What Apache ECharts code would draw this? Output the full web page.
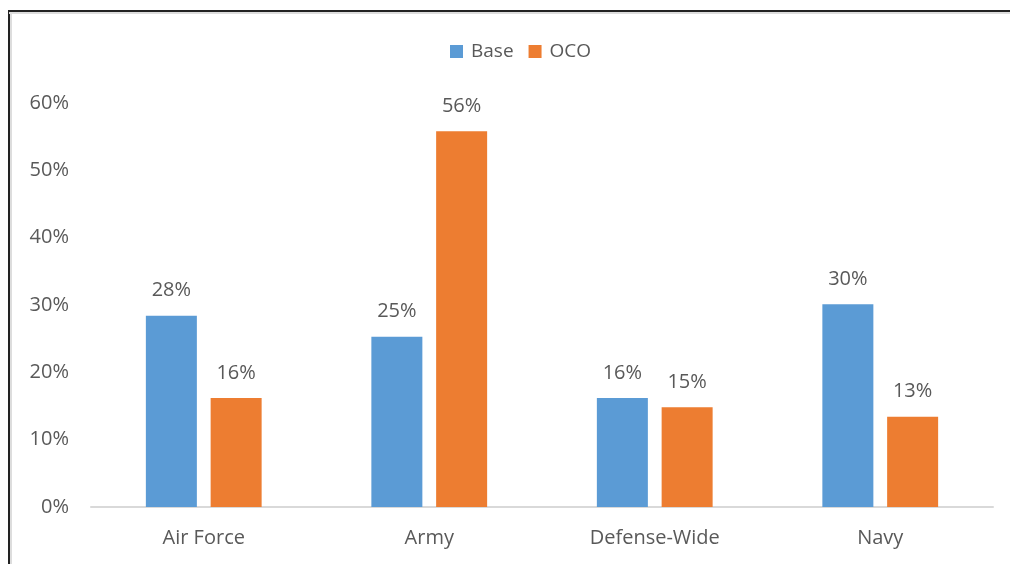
<!DOCTYPE html>
<html><head><meta charset="utf-8">
<script src="https://cdn.jsdelivr.net/npm/echarts@6/dist/echarts.min.js"></script>
<style>html,body{margin:0;padding:0;background:#fff}#c{width:1010px;height:564px}</style>
</head><body><div id="c"></div>
<script>
const categories = ['Air Force', 'Army', 'Defense-Wide', 'Navy'];
const baseValues = [0.284, 0.253, 0.162, 0.301];
const ocoValues = [0.162, 0.558, 0.148, 0.134];
const yTicks = [0, 0.1, 0.2, 0.3, 0.4, 0.5, 0.6];
const FONT = 'Open Sans';
const FS = 20;
const chart = echarts.init(document.getElementById('c'));
const lbl = {show: true, position: 'top', distance: 15, color: '#595959', fontFamily: FONT, fontSize: FS,
  formatter: p => Math.round(p.value * 100) + '%'};
chart.setOption({
  animation: false,
  textStyle: {fontFamily: FONT},
  legend: {top: 37, left: 445, itemWidth: 13, itemHeight: 13, itemGap: 15,
    textStyle: {color: '#595959', fontSize: 19, fontFamily: FONT, padding: [0, 0, 0, 3]}, icon: 'rect',
    data: ['Base', 'OCO']},
  grid: {left: 91, right: 17, top: 103, bottom: 57, containLabel: false},
  xAxis: {type: 'category', data: categories,
    axisLine: {lineStyle: {color: '#d9d9d9', width: 2}}, axisTick: {show: false},
    axisLabel: {color: '#595959', fontSize: FS, fontFamily: FONT, margin: 21}},
  yAxis: {type: 'value', min: yTicks[0], max: yTicks[yTicks.length - 1], interval: 0.1,
    splitLine: {show: false}, axisLine: {show: false}, axisTick: {show: false},
    axisLabel: {color: '#595959', fontSize: FS, fontFamily: FONT, margin: 22,
      formatter: v => Math.round(v * 100) + '%'}},
  series: [
    {name: 'Base', type: 'bar', data: baseValues, barWidth: 51, barGap: '27%', itemStyle: {color: '#5b9bd5'}, label: lbl},
    {name: 'OCO', type: 'bar', data: ocoValues, barWidth: 51, barGap: '27%', itemStyle: {color: '#ed7d31'}, label: lbl}
  ],
  graphic: [
    {type: 'line', shape: {x1: 9, y1: 11, x2: 1010, y2: 11}, style: {stroke: '#222', lineWidth: 2}},
    {type: 'line', shape: {x1: 9, y1: 10, x2: 9, y2: 564}, style: {stroke: '#222', lineWidth: 2}},
    {type: 'line', shape: {x1: 9, y1: 13, x2: 1010, y2: 13}, style: {stroke: '#ddd', lineWidth: 2}},
    {type: 'line', shape: {x1: 11, y1: 13, x2: 11, y2: 564}, style: {stroke: '#ddd', lineWidth: 2}}
  ]
});
</script></body></html>
